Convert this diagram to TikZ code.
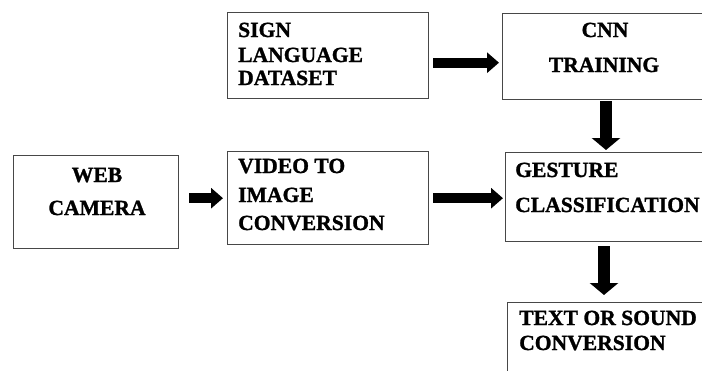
\documentclass[tikz,border=0pt]{standalone}
\usepackage{fontspec}
\setmainfont{Liberation Serif}[BoldFont={Liberation Serif Bold}]
\newfontfamily\boxfont{Liberation Serif Bold}[FakeBold=1.2]
\usetikzlibrary{arrows.meta,calc}

\tikzset{
  box/.style={draw=black!72, line width=1.4pt, fill=white, inner sep=0pt,
              anchor=north west},
  lbl/.style={inner sep=0pt, font=\boxfont\fontsize{21.6}{22}\selectfont},
  fatarrow/.style={line width=#1, -{Triangle[width=20pt,length=12pt]}},
  fatarrow/.default=9.5pt,
  downarrow/.style={line width=12.5pt, -{Triangle[width=28pt,length=12pt]}},
}

\begin{document}
\begin{tikzpicture}[x=1pt, y=-1pt]
  \useasboundingbox (0,0) rectangle (702,370);
  \clip (0,0) rectangle (702,370);

  % boxes
  \node[box, minimum width=201pt, minimum height=86pt] (sign) at (227,12) {};
  \node[box, minimum width=220pt, minimum height=86pt] (cnn) at (502,13) {};
  \node[box, minimum width=165pt, minimum height=93pt] (web) at (13,155) {};
  \node[box, minimum width=201pt, minimum height=93pt] (video) at (227,151) {};
  \node[box, minimum width=220pt, minimum height=89pt] (gesture) at (505,152) {};
  \node[box, minimum width=220pt, minimum height=100pt] (textout) at (507,302) {};

  % labels
  \node[lbl, anchor=base west] (sign1) at (238,37) {SIGN};
  \node[lbl, anchor=base west] (sign2) at (238,62) {LANGUAGE};
  \node[lbl, anchor=base west] (sign3) at (238,85) {DATASET};

  \node[lbl, anchor=base] (cnn1) at (605,37) {CNN};
  \node[lbl, anchor=base] (cnn2) at (604,72) {TRAINING};

  \node[lbl, anchor=base] (web1) at (97,182) {WEB};
  \node[lbl, anchor=base] (web2) at (97,215) {CAMERA};

  \node[lbl, anchor=base west] (video1) at (238,173) {VIDEO TO};
  \node[lbl, anchor=base west] (video2) at (238,202) {IMAGE};
  \node[lbl, anchor=base west] (video3) at (238,230) {CONVERSION};

  \node[lbl, anchor=base west] (gest1) at (515,177) {GESTURE};
  \node[lbl, anchor=base west] (gest2) at (515,212) {CLASSIFICATION};

  \node[lbl, anchor=base west] (text1) at (519,325) {TEXT OR SOUND};
  \node[lbl, anchor=base west] (text2) at (519,350) {CONVERSION};

  % connectors
  \draw[fatarrow=10pt] ($(sign.east)+(4,7)$) -- ($(cnn.west)+(-3,6)$);
  \draw[downarrow] ($(cnn.south west)+(104,1)$) -- ($(gesture.north west)+(101,-2)$);
  \draw[fatarrow] ($(web.east)+(10,-4)$) -- ($(video.west)+(-4,0)$);
  \draw[fatarrow] ($(video.east)+(4,0)$) -- ($(gesture.west)+(-2,1)$);
  \draw[downarrow] ($(gesture.south west)+(99,4)$) -- ($(textout.north west)+(97,-7)$);
\end{tikzpicture}
\end{document}
